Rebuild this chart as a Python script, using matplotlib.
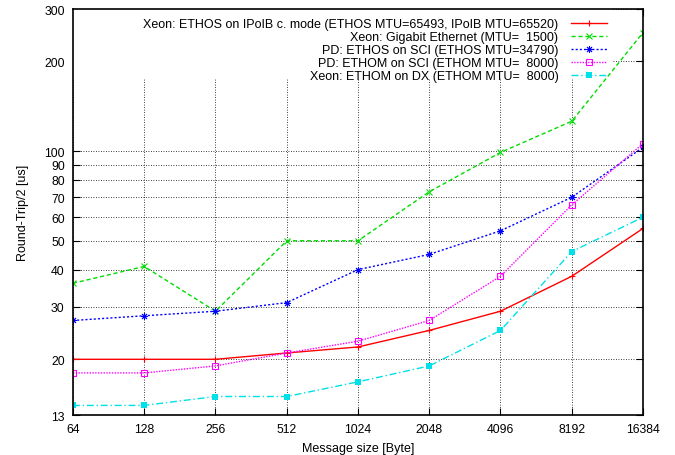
import matplotlib.pyplot as plt
from matplotlib.patches import Rectangle
from matplotlib.ticker import FixedLocator, NullLocator

plt.rcParams['font.family'] = ['Liberation Sans', 'DejaVu Sans']

# Nachrichtengroessen und Messwerte
sizes = [64, 128, 256, 512, 1024, 2048, 4096, 8192, 16384]
ipoib = [20, 20, 20, 21, 22, 25, 29, 38, 55]
gige = [36, 41, 29, 50, 50, 73, 99, 126, 250]
pd_sci = [27, 28, 29, 31, 40, 45, 54, 70, 103]
pd_ethom = [18, 18, 19, 21, 23, 27, 38, 66, 106]
xeon_dx = [14, 14, 15, 15, 16.8, 19, 25, 46, 60]

labels = [
    "Xeon: ETHOS on IPoIB c. mode (ETHOS MTU=65493, IPoIB MTU=65520)",
    "Xeon: Gigabit Ethernet (MTU=  1500)",
    "PD: ETHOS on SCI (ETHOS MTU=34790)",
    "PD: ETHOM on SCI (ETHOM MTU=  8000)",
    "Xeon: ETHOM on DX (ETHOM MTU=  8000)",
]
y_ticks = [13, 20, 30, 40, 50, 60, 70, 80, 90, 100, 200, 300]

fig = plt.figure(figsize=(6.75, 4.56), dpi=100)
ax = fig.add_axes([0.1081, 0.0877, 0.8445, 0.8903])

ax.plot(sizes, ipoib, color='#ff0000', lw=1, marker='+', ms=5, mew=0.8,
        label=labels[0])
ax.plot(sizes, gige, color='#00dd00', lw=1, ls=(0, (3, 2)), marker='x', ms=4.3,
        mew=0.8, label=labels[1])
ax.plot(sizes, pd_sci, color='#0000ff', lw=1, ls=(0, (1.5, 1.5)),
        marker=(8, 2, 0), ms=5, mew=0.7, label=labels[2])
ax.plot(sizes, pd_ethom, color='#ff00ff', lw=1, ls=(0, (1, 1)), marker='s',
        ms=4.3, mfc='none', mew=0.8, label=labels[3])
ax.plot(sizes, xeon_dx, color='#00e0e8', lw=1, ls=(0, (5, 2, 1, 2)),
        marker='s', ms=4.3, mew=0, label=labels[4])

ax.set_xscale('log', base=2)
ax.set_yscale('log')
ax.set_xlim(64, 16384)
ax.set_ylim(13, 300)

ax.xaxis.set_major_locator(FixedLocator(sizes))
ax.xaxis.set_minor_locator(NullLocator())
ax.set_xticklabels([str(s) for s in sizes])
ax.yaxis.set_major_locator(FixedLocator(y_ticks))
ax.yaxis.set_minor_locator(NullLocator())
ax.set_yticklabels([str(t) for t in y_ticks])

ax.tick_params(direction='in', length=5, width=0.8, top=True, right=True,
               labelsize=8.8, pad=6)
ax.grid(True, color='black', ls=(0, (1, 2)), lw=0.6)
for s in ax.spines.values():
    s.set_linewidth(1.2)

# weisser Hintergrund der Legende
ax.add_patch(Rectangle((0, 0.8276), 0.947, 0.18, transform=ax.transAxes,
                       facecolor='white', edgecolor='none', zorder=1.8))

ax.legend(loc='upper right', bbox_to_anchor=((607 - 73) / 570, (416 - 19) / 406),
          frameon=False, markerfirst=False, fontsize=9, borderpad=0,
          borderaxespad=0, labelspacing=0.08, handlelength=2.9,
          handletextpad=1.0)

ax.set_xlabel("Message size [Byte]", fontsize=9, labelpad=5)
ax.set_ylabel("Round-Trip/2 [us]", fontsize=9, labelpad=11)

fig.savefig("out.png", dpi=100)
